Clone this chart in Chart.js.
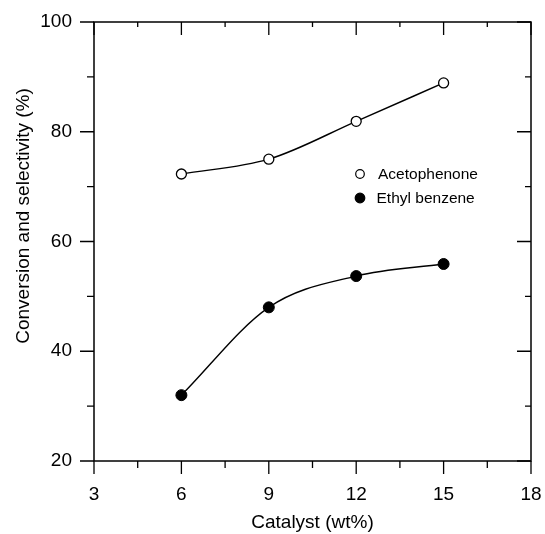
<!DOCTYPE html>
<html><head><meta charset="utf-8">
<script src="https://cdn.jsdelivr.net/npm/chart.js@4"></script>
<style>html,body{margin:0;padding:0;background:#fff}#wrap{width:545px;height:534px}</style>
</head><body><div id="wrap"><canvas id="c" width="545" height="534"></canvas></div>
<script>
const catalyst = [6, 9, 12, 15];
const acetophenone = [72.3, 75.0, 81.9, 88.9];
const ethylBenzene = [32.0, 48.0, 53.7, 55.9];
const xMajorTicks = [3, 6, 9, 12, 15, 18];
const xMinorTicks = [4.5, 7.5, 10.5, 13.5, 16.5];
const yMajorTicks = [20, 40, 60, 80, 100];
const yMinorTicks = [30, 50, 70, 90];
const seriesNames = ['Acetophenone', 'Ethyl benzene'];
const xTitle = 'Catalyst (wt%)';
const yTitle = 'Conversion and selectivity (%)';

const FONT = '"Liberation Sans", Arial, Helvetica, sans-serif';
const toPts = (ys) => catalyst.map((x, i) => ({x: x, y: ys[i]}));

const framePlugin = {
  id: 'frameTicks',
  beforeDatasetsDraw(chart) {
    const {ctx, chartArea: a, scales: {x, y}} = chart;
    ctx.save();
    ctx.strokeStyle = '#000';
    ctx.lineWidth = 1.5;
    ctx.strokeRect(a.left, a.top, a.right - a.left, a.bottom - a.top);
    ctx.lineWidth = 1.3;
    ctx.beginPath();
    const xt = (v, L, Lt) => {
      const px = x.getPixelForValue(v);
      ctx.moveTo(px, a.bottom); ctx.lineTo(px, a.bottom + L);
      ctx.moveTo(px, a.top); ctx.lineTo(px, a.top + Lt);
    };
    const yt = (v, L, Lr) => {
      const py = y.getPixelForValue(v);
      ctx.moveTo(a.left, py); ctx.lineTo(a.left - L, py);
      ctx.moveTo(a.right, py); ctx.lineTo(a.right - Lr, py);
    };
    xMajorTicks.forEach(v => xt(v, 13, 13));
    xMinorTicks.forEach(v => xt(v, 7, 5));
    yMajorTicks.forEach(v => yt(v, 14, 14));
    yMinorTicks.forEach(v => yt(v, 7, 6));
    ctx.stroke();
    ctx.restore();
  },
  afterDraw(chart) {
    const {ctx, chartArea: a} = chart;
    ctx.save();
    ctx.fillStyle = '#000';
    ctx.font = '19px ' + FONT;
    ctx.textAlign = 'center';
    ctx.textBaseline = 'middle';
    ctx.fillText(xTitle, (a.left + a.right) / 2, 523);
    ctx.translate(24, 216);
    ctx.rotate(-Math.PI / 2);
    ctx.fillText(yTitle, 0, 0);
    ctx.restore();
    // legend
    ctx.save();
    const lx = a.left + 266, ly = a.top + 152;
    const rows = [
      {name: seriesNames[0], fill: '#fff', r: 4.3},
      {name: seriesNames[1], fill: '#000', r: 4.8}
    ];
    ctx.font = '15.5px ' + FONT;
    ctx.textAlign = 'left';
    ctx.textBaseline = 'middle';
    rows.forEach((row, i) => {
      const cy = ly + i * 24;
      ctx.beginPath();
      ctx.arc(lx, cy, row.r, 0, Math.PI * 2);
      ctx.fillStyle = row.fill;
      ctx.fill();
      ctx.lineWidth = 1.2;
      ctx.strokeStyle = '#000';
      ctx.stroke();
      ctx.fillStyle = '#000';
      ctx.fillText(row.name, lx + (i === 0 ? 18 : 16.5), cy + 1);
    });
    ctx.restore();
  }
};

new Chart(document.getElementById('c'), {
  type: 'line',
  data: {
    datasets: [
      {
        label: seriesNames[0],
        data: toPts(acetophenone),
        borderColor: '#000', borderWidth: 1.4,
        pointRadius: 5, pointBorderWidth: 1.3,
        pointBackgroundColor: '#fff', pointBorderColor: '#000',
        cubicInterpolationMode: 'monotone', fill: false
      },
      {
        label: seriesNames[1],
        data: toPts(ethylBenzene),
        borderColor: '#000', borderWidth: 1.4,
        pointRadius: 5.5, pointBorderWidth: 1,
        pointBackgroundColor: '#000', pointBorderColor: '#000',
        cubicInterpolationMode: 'monotone', fill: false
      }
    ]
  },
  options: {
    responsive: false,
    animation: false,
    devicePixelRatio: 1,
    layout: {padding: {left: 0, right: 14, top: 22, bottom: 0}},
    plugins: {legend: {display: false}, tooltip: {enabled: false}},
    scales: {
      x: {
        type: 'linear', min: 3, max: 18,
        afterFit(s) { s.height = 73; s.paddingLeft = 0; s.paddingRight = 0; },
        afterBuildTicks(s) { s.ticks = xMajorTicks.map(v => ({value: v})); },
        grid: {display: false}, border: {display: false},
        ticks: {color: '#000', font: {size: 19, family: FONT}, padding: 14, maxRotation: 0}
      },
      y: {
        type: 'linear', min: 20, max: 100,
        afterFit(s) { s.width = 94; s.paddingTop = 0; s.paddingBottom = 0; },
        afterBuildTicks(s) { s.ticks = yMajorTicks.map(v => ({value: v})); },
        grid: {display: false}, border: {display: false},
        ticks: {color: '#000', font: {size: 19, family: FONT}, padding: 14}
      }
    }
  },
  plugins: [framePlugin]
});
</script>
</body></html>
